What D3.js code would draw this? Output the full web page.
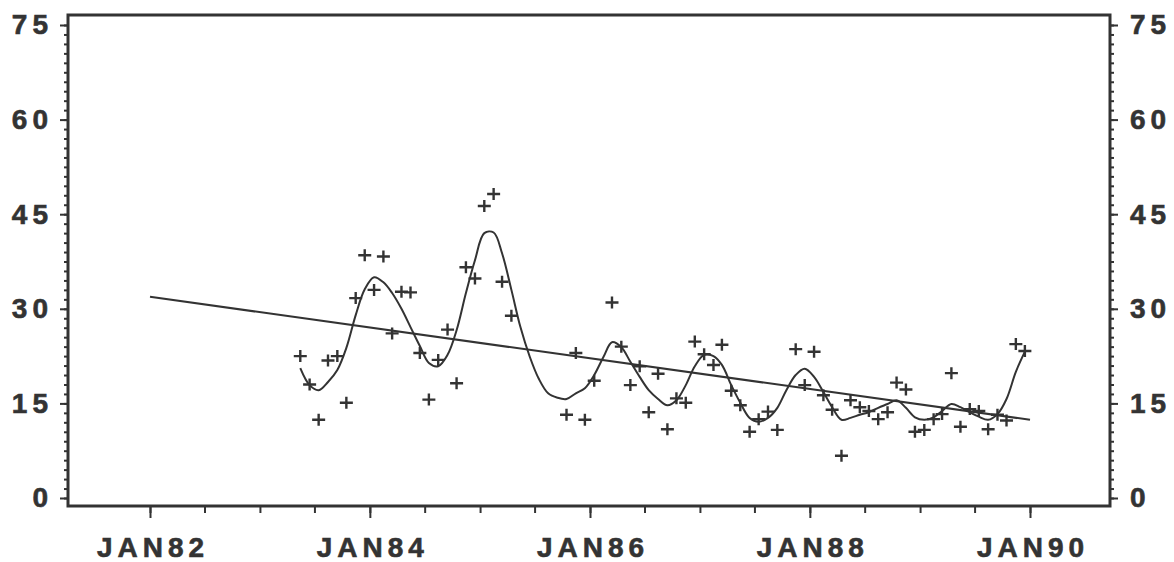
<!DOCTYPE html>
<html>
<head>
<meta charset="utf-8">
<script src="https://cdn.jsdelivr.net/npm/d3@7"></script>
<style>
  body { margin: 0; background: #fff; }
  text { font-family: "Liberation Sans", Arial, sans-serif; font-weight: bold; fill: #333; }
</style>
</head>
<body>
<div id="chart"></div>
<script>
// monthly observations (plotted as +)
const obs = [
  ["1983-05", 22.5], ["1983-06", 18.0], ["1983-07", 12.4], ["1983-08", 21.8],
  ["1983-09", 22.5], ["1983-10", 15.1], ["1983-11", 31.7], ["1983-12", 38.5],
  ["1984-01", 33.0], ["1984-02", 38.3], ["1984-03", 26.1], ["1984-04", 32.7],
  ["1984-05", 32.6], ["1984-06", 23.0], ["1984-07", 15.6], ["1984-08", 21.9],
  ["1984-09", 26.7], ["1984-10", 18.2], ["1984-11", 36.6], ["1984-12", 34.8],
  ["1985-01", 46.3], ["1985-02", 48.2], ["1985-03", 34.3], ["1985-04", 28.9],
  ["1985-10", 13.2], ["1985-11", 23.0], ["1985-12", 12.4], ["1986-01", 18.6],
  ["1986-03", 31.0], ["1986-04", 24.0], ["1986-05", 17.9], ["1986-06", 20.9],
  ["1986-07", 13.6], ["1986-08", 19.7], ["1986-09", 10.9], ["1986-10", 15.8],
  ["1986-11", 15.1], ["1986-12", 24.8], ["1987-01", 22.8], ["1987-02", 21.1],
  ["1987-03", 24.3], ["1987-04", 17.0], ["1987-05", 14.7], ["1987-06", 10.5],
  ["1987-07", 12.5], ["1987-08", 13.7], ["1987-09", 10.8], ["1987-11", 23.6],
  ["1987-12", 17.9], ["1988-01", 23.2], ["1988-02", 16.3], ["1988-03", 14.0],
  ["1988-04", 6.7], ["1988-05", 15.5], ["1988-06", 14.4], ["1988-07", 13.8],
  ["1988-08", 12.5], ["1988-09", 13.6], ["1988-10", 18.3], ["1988-11", 17.2],
  ["1988-12", 10.5], ["1989-01", 10.8], ["1989-02", 12.5], ["1989-03", 13.3],
  ["1989-04", 19.8], ["1989-05", 11.3], ["1989-06", 14.1], ["1989-07", 13.8],
  ["1989-08", 10.9], ["1989-09", 13.2], ["1989-10", 12.3], ["1989-11", 24.4],
  ["1989-12", 23.3]
];

const smooth = [
  ["1983-05", 20.6], ["1983-06", 17.9], ["1983-07", 17.1], ["1983-08", 18.4],
  ["1983-09", 20.3], ["1983-10", 23.8], ["1983-11", 29.0], ["1983-12", 33.1],
  ["1984-01", 35.0], ["1984-02", 34.2], ["1984-03", 32.5], ["1984-04", 30.0],
  ["1984-05", 27.1], ["1984-06", 24.1], ["1984-07", 21.4], ["1984-08", 20.9],
  ["1984-09", 22.7], ["1984-10", 26.6], ["1984-11", 32.5], ["1984-12", 37.7],
  ["1985-01", 42.0], ["1985-02", 42.1], ["1985-03", 38.8], ["1985-04", 33.0],
  ["1985-05", 27.1], ["1985-06", 22.4], ["1985-07", 18.9], ["1985-08", 16.6],
  ["1985-09", 15.9], ["1985-10", 15.7], ["1985-11", 16.6], ["1985-12", 17.4],
  ["1986-01", 19.5], ["1986-02", 22.4], ["1986-03", 24.7], ["1986-04", 23.9],
  ["1986-05", 21.6], ["1986-06", 19.2], ["1986-07", 17.1], ["1986-08", 15.7],
  ["1986-09", 14.7], ["1986-10", 15.5], ["1986-11", 17.9], ["1986-12", 20.9],
  ["1987-01", 22.7], ["1987-02", 22.5], ["1987-03", 21.1], ["1987-04", 17.9],
  ["1987-05", 15.1], ["1987-06", 12.7], ["1987-07", 12.1], ["1987-08", 12.7],
  ["1987-09", 14.3], ["1987-10", 17.1], ["1987-11", 19.5], ["1987-12", 20.5],
  ["1988-01", 19.2], ["1988-02", 16.8], ["1988-03", 14.4], ["1988-04", 12.4],
  ["1988-05", 12.7], ["1988-06", 13.2], ["1988-07", 13.6], ["1988-08", 14.3],
  ["1988-09", 14.9], ["1988-10", 15.5], ["1988-11", 14.3], ["1988-12", 12.8],
  ["1989-01", 12.4], ["1989-02", 12.8], ["1989-03", 13.8], ["1989-04", 14.9],
  ["1989-05", 14.4], ["1989-06", 13.6], ["1989-07", 12.9], ["1989-08", 12.4],
  ["1989-09", 13.3], ["1989-10", 15.7], ["1989-11", 20.0], ["1989-12", 23.2]
];

// linear trend end points
const trend = [["1982-01-01", 31.9], ["1990-01-01", 12.4]];

const xTickLabels = ["JAN82", "JAN84", "JAN86", "JAN88", "JAN90"];
const xLabelDates = ["1982-01-01", "1984-01-01", "1986-01-01", "1988-01-01", "1990-01-01"];
const yTicks = [0, 15, 30, 45, 60, 75];

const width = 1174, height = 562;
const ink = "#333";
const frame = { left: 68, right: 1110, top: 15, bottom: 506 };

const parseMonth = d3.timeParse("%Y-%m");
const parseDay = d3.timeParse("%Y-%m-%d");
// monthly values sit in the middle of their month
const midMonth = (s) => d3.timeDay.offset(parseMonth(s), 14);

const svg = d3.select("#chart")
  .append("svg")
  .attr("width", width)
  .attr("height", height);

// Define scales
const xScale = d3.scaleTime()
  .domain([parseDay("1982-01-01"), parseDay("1990-01-01")])
  .range([150, 1030]);
const yScale = d3.scaleLinear().domain([0, 75]).range([498, 25]);

// minor ticks
const minorX = d3.timeMonth.every(6).range(parseDay("1982-01-01"), parseDay("1990-01-02"));
const minorY = d3.range(0, 75.01, 1.5);

svg.append("g")
  .attr("class", "x minor")
  .attr("transform", "translate(0," + frame.bottom + ")")
  .call(d3.axisBottom(xScale).tickValues(minorX).tickSize(7).tickFormat(""));

svg.append("g")
  .attr("class", "x axis")
  .attr("transform", "translate(0," + frame.bottom + ")")
  .call(d3.axisBottom(xScale)
    .tickValues(xLabelDates.map(parseDay))
    .tickSize(12)
    .tickPadding(19)
    .tickFormat((d, i) => xTickLabels[i]));

svg.append("g")
  .attr("class", "y minor")
  .attr("transform", "translate(" + frame.left + ",0)")
  .call(d3.axisLeft(yScale).tickValues(minorY).tickSize(4).tickFormat(""));
svg.append("g")
  .attr("class", "y axis")
  .attr("transform", "translate(" + frame.left + ",0)")
  .call(d3.axisLeft(yScale).tickValues(yTicks).tickSize(8).tickPadding(7));

svg.append("g")
  .attr("class", "y2 minor")
  .attr("transform", "translate(" + frame.right + ",0)")
  .call(d3.axisRight(yScale).tickValues(minorY).tickSize(4).tickFormat(""));
svg.append("g")
  .attr("class", "y2 axis")
  .attr("transform", "translate(" + frame.right + ",0)")
  .call(d3.axisRight(yScale).tickValues(yTicks).tickSize(8).tickPadding(12));

svg.selectAll(".domain").remove();
svg.selectAll(".tick line").attr("stroke", ink).attr("stroke-width", 2);
svg.selectAll(".tick text")
  .style("font-size", "28px")
  .style("letter-spacing", "5px")
  .attr("fill", ink)
  .attr("stroke", ink)
  .attr("stroke-width", 0.6);
svg.selectAll(".x.axis .tick text").attr("dx", "2.5px");

// frame
svg.append("rect")
  .attr("x", frame.left)
  .attr("y", frame.top)
  .attr("width", frame.right - frame.left)
  .attr("height", frame.bottom - frame.top)
  .attr("fill", "none")
  .attr("stroke", ink)
  .attr("stroke-width", 3);

// trend line
const line = d3.line()
  .x((d) => xScale(d[0]))
  .y((d) => yScale(d[1]));

svg.append("path")
  .attr("class", "trend")
  .attr("d", line(trend.map((d) => [parseDay(d[0]), d[1]])))
  .attr("fill", "none")
  .attr("stroke", ink)
  .attr("stroke-width", 2);

// smoothed curve
svg.append("path")
  .attr("class", "smooth")
  .attr("d", line.curve(d3.curveCatmullRom.alpha(0.5))(smooth.map((d) => [midMonth(d[0]), d[1]])))
  .attr("fill", "none")
  .attr("stroke", ink)
  .attr("stroke-width", 2);

// observations
svg.selectAll(".obs")
  .data(obs)
  .enter()
  .append("path")
  .attr("class", "obs")
  .attr("transform", (d) => "translate(" + xScale(midMonth(d[0])) + "," + yScale(d[1]) + ")")
  .attr("d", "M-6.5,0H6.5M0,-6V6")
  .attr("stroke", ink)
  .attr("stroke-width", 2.4)
  .attr("fill", "none");
</script>
</body>
</html>
